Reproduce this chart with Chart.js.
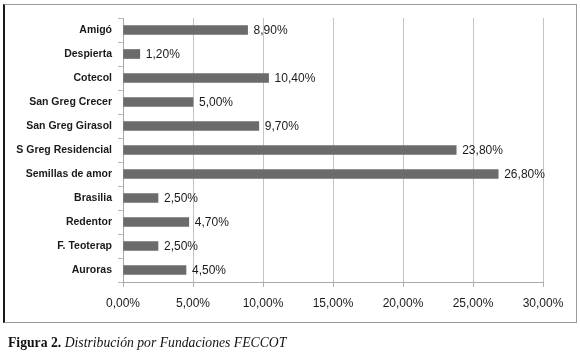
<!DOCTYPE html>
<html><head><meta charset="utf-8">
<script src="https://cdn.jsdelivr.net/npm/chart.js@4"></script>
<style>
html,body{margin:0;padding:0;background:#fff;}
#wrap{position:relative;width:580px;height:355px;overflow:hidden;}
#frame{position:absolute;left:3px;top:4px;width:574px;height:319px;box-sizing:border-box;border:1px solid #9a9a9a;border-left:2px solid #1a1a1a;}
#c{position:absolute;left:0;top:0;}
#cap{position:absolute;left:8px;top:335px;font-family:"Liberation Serif","Times New Roman",serif;font-size:13.7px;color:#111;white-space:nowrap;}
</style></head>
<body><div id="wrap"><div id="frame"></div><canvas id="c" width="580" height="355"></canvas>
<div id="cap"><b>Figura 2.</b> <i>Distribución por Fundaciones FECCOT</i></div></div>
<script>
const categories = ["Amigó","Despierta","Cotecol","San Greg Crecer","San Greg Girasol","S Greg Residencial","Semillas de amor","Brasilia","Redentor","F. Teoterap","Auroras"];
const values = [8.9,1.2,10.4,5.0,9.7,23.8,26.8,2.5,4.7,2.5,4.5];
const xTicks = [0,5,10,15,20,25,30];

const fmt = v => v.toFixed(2).replace('.', ',') + '%';

const valueLabels = {
  id: 'valueLabels',
  afterDatasetsDraw(chart) {
    const ctx = chart.ctx;
    const meta = chart.getDatasetMeta(0);
    ctx.save();
    ctx.font = '12px "Liberation Sans", Arial, sans-serif';
    ctx.fillStyle = '#1a1a1a';
    ctx.textBaseline = 'middle';
    ctx.textAlign = 'left';
    meta.data.forEach((bar, i) => {
      ctx.fillText(fmt(values[i]), bar.x + 6, bar.y + 1);
    });
    ctx.restore();
  }
};

new Chart(document.getElementById('c'), {
  type: 'bar',
  data: {
    labels: categories,
    datasets: [{
      data: values,
      backgroundColor: '#6b6b6b',
      borderWidth: 0,
      barThickness: 9
    }]
  },
  options: {
    indexAxis: 'y',
    responsive: false,
    animation: false,
    layout: { padding: { top: 18, right: 37, left: 0, bottom: 0 } },
    plugins: { legend: { display: false }, tooltip: { enabled: false } },
    scales: {
      x: {
        min: 0, max: 30,
        afterBuildTicks: s => { s.ticks = xTicks.map(v => ({ value: v })); },
        afterFit: s => { s.height = 73; },
        grid: { color: '#c4c4c4', tickLength: 5, tickColor: '#b0b0b0' },
        border: { color: '#a8a8a8' },
        ticks: {
          padding: 9,
          color: '#1a1a1a',
          font: { family: '"Liberation Sans", Arial, sans-serif', size: 12 },
          callback: v => fmt(v),
          maxRotation: 0
        }
      },
      y: {
        afterFit: s => { s.width = 123; },
        grid: { display: true, drawOnChartArea: false, offset: true, tickLength: 5, color: '#b8b8b8' },
        border: { color: '#a8a8a8' },
        ticks: {
          padding: 6,
          color: '#1a1a1a',
          font: { family: '"Liberation Sans", Arial, sans-serif', size: 10.5, weight: 'bold' }
        }
      }
    }
  },
  plugins: [valueLabels]
});
</script></body></html>
